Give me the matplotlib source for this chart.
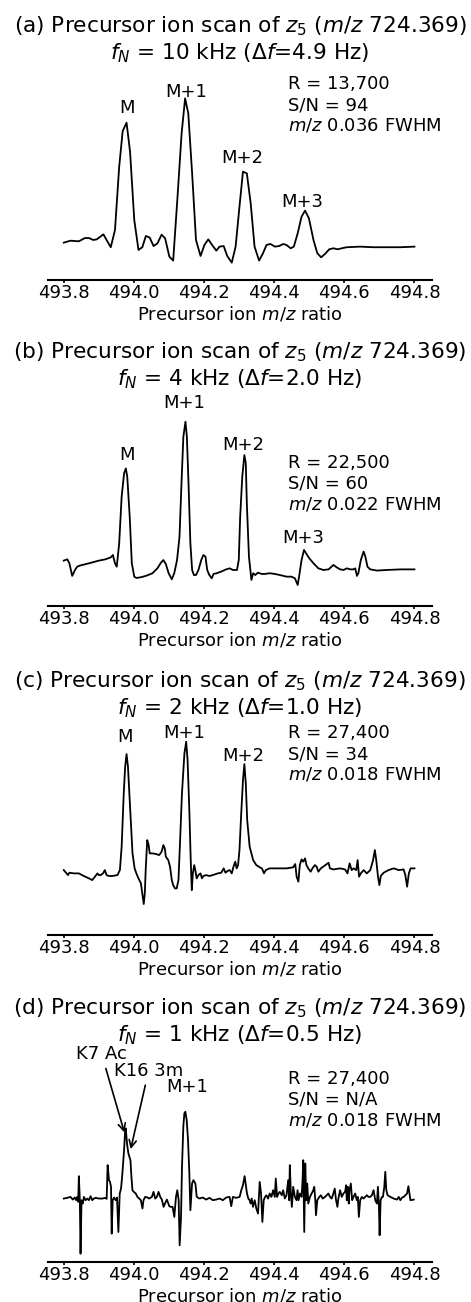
import numpy as np
import matplotlib
matplotlib.use('Agg')
import matplotlib.pyplot as plt

# ---------------- data: precursor m/z vs relative intensity (%) ----------------
# (a) fN = 10 kHz
mz_a = [493.800, 493.819, 493.843, 493.860, 493.872, 493.884, 493.894, 493.913, 493.921, 493.934,
        493.946, 493.958, 493.968, 493.979, 493.989, 494.001, 494.013, 494.024, 494.034, 494.045,
        494.056, 494.067, 494.079, 494.089, 494.101, 494.112, 494.125, 494.136, 494.146, 494.155,
        494.166, 494.177, 494.190, 494.201, 494.212, 494.223, 494.235, 494.244, 494.256, 494.266,
        494.279, 494.290, 494.301, 494.311, 494.322, 494.333, 494.344, 494.357, 494.368, 494.378,
        494.389, 494.402, 494.414, 494.426, 494.435, 494.447, 494.456, 494.467, 494.478, 494.488,
        494.499, 494.512, 494.523, 494.534, 494.545, 494.557, 494.569, 494.581, 494.593, 494.607,
        494.645, 494.683, 494.722, 494.760, 494.800]
int_a = [2.7, 4.0, 3.6, 5.8, 5.8, 4.5, 4.9, 8.3, 4.9, -0.4,
         11.2, 53.9, 78.0, 83.6, 64.0, 18.0, -2.2, -0.4, 7.2, 6.1,
         0.4, 2.2, 8.1, 5.6, -6.7, -9.4, 36.0, 76.4, 100.0, 89.9,
         49.4, 4.5, -6.3, 1.1, 4.9, 1.1, -2.7, 0.0, 0.4, -6.3,
         -10.8, 0.0, 27.0, 50.6, 49.4, 29.2, 0.0, -9.4, -4.5, 1.1,
         1.8, 0.0, 0.4, 1.8, 1.1, -1.1, 0.0, 9.0, 20.2, 24.3,
         19.1, 4.5, -4.5, -7.2, -4.9, -1.8, -1.1, -1.8, -1.1, -0.4,
         0.0, -0.4, -0.4, -0.4, 0.0]

# (b) fN = 4 kHz
mz_b = [493.800, 493.810, 493.816, 493.824, 493.832, 493.838, 493.848, 493.872, 493.900, 493.919,
        493.934, 493.940, 493.946, 493.951, 493.958, 493.965, 493.972, 493.977, 493.981, 493.988,
        493.994, 494.001, 494.007, 494.020, 494.034, 494.053, 494.067, 494.077, 494.084, 494.091,
        494.099, 494.108, 494.115, 494.123, 494.130, 494.136, 494.141, 494.147, 494.151, 494.156,
        494.161, 494.166, 494.171, 494.177, 494.184, 494.192, 494.198, 494.204, 494.209, 494.215,
        494.222, 494.227, 494.236, 494.249, 494.263, 494.273, 494.282, 494.294, 494.299, 494.303,
        494.309, 494.315, 494.319, 494.322, 494.328, 494.335, 494.340, 494.346, 494.354, 494.364,
        494.373, 494.387, 494.402, 494.416, 494.435, 494.449, 494.459, 494.467, 494.471, 494.478,
        494.485, 494.491, 494.500, 494.512, 494.526, 494.540, 494.555, 494.569, 494.578, 494.588,
        494.598, 494.607, 494.617, 494.626, 494.631, 494.636, 494.640, 494.647, 494.655, 494.660,
        494.666, 494.674, 494.693, 494.722, 494.760, 494.800]
int_b = [6.3, 7.2, 4.5, -4.0, 0.0, 2.2, 3.1, 4.5, 6.3, 7.2,
         8.5, 10.1, 4.5, 2.2, 18.0, 49.4, 65.2, 68.5, 62.9, 36.0,
         4.5, -4.5, -5.4, -4.9, -4.0, -2.2, 1.1, 4.9, 6.7, 4.0,
         -2.2, -6.3, -2.2, 6.7, 22.5, 60.7, 89.9, 100.0, 89.9, 56.2,
         18.0, 0.0, -3.4, -3.4, 0.0, 6.7, 10.1, 9.0, 0.0, -3.4,
         -5.6, -2.7, -2.2, -1.1, 0.4, 1.1, 0.0, 0.0, 6.7, 36.0,
         62.9, 77.5, 71.9, 44.9, 9.0, -6.7, -2.2, -3.4, -1.8, -2.7,
         -2.7, -2.2, -2.7, -3.4, -4.5, -4.5, -5.6, -10.1, -4.5, 6.7,
         13.5, 11.2, 7.9, 4.5, 1.1, 0.0, 0.4, 3.4, 1.8, 0.4,
         0.0, 1.1, 0.4, 0.4, 1.1, -4.0, -2.2, 6.7, 12.4, 9.0,
         2.2, 0.4, -0.4, 0.0, 0.4, 0.4]

# (c) fN = 2 kHz
mz_c = [493.800, 493.808, 493.812, 493.816, 493.829, 493.843, 493.857, 493.872, 493.881, 493.889,
        493.896, 493.900, 493.905, 493.912, 493.917, 493.922, 493.929, 493.938, 493.953, 493.960,
        493.965, 493.971, 493.975, 493.979, 493.983, 493.989, 493.996, 494.002, 494.007, 494.013,
        494.020, 494.024, 494.028, 494.031, 494.034, 494.038, 494.042, 494.045, 494.053, 494.063,
        494.072, 494.079, 494.084, 494.088, 494.091, 494.098, 494.103, 494.108, 494.112, 494.117,
        494.122, 494.127, 494.131, 494.137, 494.144, 494.149, 494.153, 494.158, 494.162, 494.165,
        494.168, 494.172, 494.175, 494.179, 494.184, 494.190, 494.194, 494.198, 494.206, 494.215,
        494.225, 494.239, 494.249, 494.256, 494.261, 494.268, 494.273, 494.279, 494.284, 494.289,
        494.293, 494.297, 494.301, 494.306, 494.311, 494.315, 494.319, 494.323, 494.330, 494.340,
        494.349, 494.359, 494.365, 494.371, 494.376, 494.387, 494.406, 494.435, 494.454, 494.460,
        494.464, 494.469, 494.473, 494.478, 494.483, 494.488, 494.492, 494.497, 494.504, 494.509,
        494.516, 494.521, 494.526, 494.533, 494.540, 494.550, 494.555, 494.559, 494.569, 494.588,
        494.602, 494.609, 494.615, 494.621, 494.626, 494.634, 494.638, 494.642, 494.647, 494.655,
        494.664, 494.674, 494.682, 494.687, 494.691, 494.696, 494.700, 494.704, 494.712, 494.726,
        494.741, 494.755, 494.769, 494.774, 494.779, 494.784, 494.789, 494.800]
int_c = [2.5, 0.0, -1.3, 0.5, 0.0, 0.0, -2.0, -3.8, -5.1, -2.5,
         0.0, -1.3, -1.3, 0.0, 2.5, -1.3, -2.0, -2.0, -1.3, 2.5,
         20.3, 60.8, 81.0, 90.6, 81.0, 50.6, 15.2, 3.8, 0.0, -3.8,
         -7.6, -15.2, -23.3, -15.2, 5.1, 25.3, 21.5, 15.2, 15.2, 14.7,
         13.9, 16.5, 21.5, 19.0, 12.7, 10.1, 5.1, -5.1, -8.9, -11.4,
         -11.4, -5.1, 20.3, 60.8, 91.1, 100.0, 86.1, 48.1, 10.1, -12.7,
         0.0, 6.3, 2.5, -3.8, -1.3, 0.0, -3.8, -2.0, -1.3, -2.0,
         -1.3, 0.0, 0.5, 3.8, 0.5, 2.0, 2.5, 0.0, 5.1, 8.9,
         3.8, 6.3, 17.7, 45.6, 70.9, 83.0, 68.4, 40.5, 20.3, 10.1,
         6.3, 4.6, 3.8, 0.0, 2.5, 3.8, 3.8, 3.8, 4.6, 7.1,
         -2.5, -6.3, 6.3, 10.6, 8.9, 11.4, 6.3, 3.8, 1.3, 3.8,
         6.3, 5.1, 1.3, 3.8, 5.1, 7.1, 8.1, 3.8, 3.0, 3.8,
         3.0, 0.0, 7.6, 2.5, 3.8, 2.5, 10.1, -2.5, 0.0, 2.5,
         0.0, 2.5, 10.1, 17.7, 10.1, -2.5, -8.9, -2.0, 0.5, 2.5,
         3.8, 2.5, 3.0, -1.3, -10.1, 0.0, 3.8, 3.8]

# (d) fN = 1 kHz
mz_d = [493.8000, 493.8096, 493.8191, 493.8258, 493.8315, 493.8353, 493.8382, 493.8411, 493.8430, 493.8458,
        493.8478, 493.8506, 493.8544, 493.8573, 493.8621, 493.8669, 493.8716, 493.8764, 493.8812, 493.8860,
        493.8907, 493.9003, 493.9098, 493.9194, 493.9222, 493.9251, 493.9289, 493.9318, 493.9347, 493.9366,
        493.9394, 493.9433, 493.9480, 493.9518, 493.9557, 493.9595, 493.9633, 493.9671, 493.9719, 493.9748,
        493.9767, 493.9795, 493.9815, 493.9843, 493.9872, 493.9901, 493.9929, 493.9958, 493.9996, 494.0053,
        494.0101, 494.0149, 494.0197, 494.0244, 494.0273, 494.0321, 494.0388, 494.0435, 494.0512, 494.0559,
        494.0607, 494.0655, 494.0703, 494.0750, 494.0798, 494.0846, 494.0894, 494.0941, 494.1008, 494.1056,
        494.1104, 494.1152, 494.1199, 494.1237, 494.1276, 494.1304, 494.1343, 494.1371, 494.1409, 494.1438,
        494.1467, 494.1505, 494.1543, 494.1581, 494.1610, 494.1658, 494.1696, 494.1753, 494.1791, 494.1868,
        494.1963, 494.2059, 494.2154, 494.2250, 494.2345, 494.2441, 494.2536, 494.2632, 494.2727, 494.2775,
        494.2823, 494.2918, 494.3014, 494.3062, 494.3109, 494.3157, 494.3186, 494.3224, 494.3262, 494.3300,
        494.3329, 494.3358, 494.3396, 494.3444, 494.3491, 494.3539, 494.3587, 494.3625, 494.3663, 494.3701,
        494.3740, 494.3778, 494.3826, 494.3873, 494.3921, 494.3969, 494.4017, 494.4045, 494.4083, 494.4122,
        494.4160, 494.4217, 494.4255, 494.4303, 494.4351, 494.4399, 494.4427, 494.4446, 494.4475, 494.4504,
        494.4542, 494.4590, 494.4637, 494.4666, 494.4695, 494.4733, 494.4781, 494.4809, 494.4828, 494.4857,
        494.4886, 494.4914, 494.4943, 494.4972, 494.5019, 494.5067, 494.5115, 494.5143, 494.5172, 494.5191,
        494.5229, 494.5287, 494.5334, 494.5382, 494.5449, 494.5497, 494.5545, 494.5592, 494.5640, 494.5688,
        494.5726, 494.5764, 494.5803, 494.5831, 494.5879, 494.5927, 494.5974, 494.6022, 494.6051, 494.6070,
        494.6099, 494.6127, 494.6146, 494.6185, 494.6223, 494.6261, 494.6309, 494.6356, 494.6385, 494.6414,
        494.6452, 494.6500, 494.6547, 494.6595, 494.6643, 494.6691, 494.6738, 494.6786, 494.6834, 494.6882,
        494.6929, 494.6958, 494.6987, 494.7006, 494.7035, 494.7073, 494.7101, 494.7140, 494.7168, 494.7197,
        494.7235, 494.7312, 494.7407, 494.7503, 494.7550, 494.7598, 494.7646, 494.7694, 494.7741, 494.7789,
        494.7827, 494.7856, 494.7885, 494.7980]
int_d = [0.0, 0.8, 1.9, -1.2, 1.2, -1.9, 1.9, -3.8, 25.8, -1.9,
         -63.5, -1.9, -5.8, 1.9, -1.9, 0.0, -1.9, 2.7, -1.9, 0.0,
         0.8, 0.0, 0.0, 0.8, -0.4, 38.5, 21.2, 19.2, 13.5, -40.4,
         -1.9, 1.2, -1.9, 1.2, -38.5, 5.8, 11.5, 28.8, 55.8, 76.9,
         80.8, 67.3, 59.6, 51.9, 48.1, 44.2, 25.0, 9.6, 7.7, 5.8,
         1.9, 0.0, -1.9, -11.5, -1.9, 1.9, 1.2, 0.0, 1.9, 7.7,
         0.0, 1.9, 7.7, 1.9, -1.2, -9.6, -5.0, -1.2, -8.8, -9.6,
         -9.6, -21.2, 1.9, 9.6, -1.9, -53.8, -21.2, 36.5, 82.7, 98.1,
         100.0, 90.4, 67.3, 28.8, -13.5, 17.3, 21.2, 17.3, 1.9, 0.0,
         1.2, -1.2, 0.8, -1.9, -1.2, 0.0, -1.9, 1.2, 1.9, -8.8,
         1.9, 0.8, 1.9, 9.6, 15.4, 25.8, 17.3, 5.8, 0.0, -1.9,
         -5.8, 0.0, -9.6, -1.9, -11.5, -17.3, 19.2, 5.8, -26.9, -1.9,
         1.9, 3.8, 0.0, 5.8, 1.9, 9.6, 1.9, 23.1, 1.9, 5.8,
         7.7, 3.8, 9.6, 0.0, 3.8, 21.2, -1.9, 38.5, 5.8, -9.6,
         13.5, 1.9, -1.9, 9.6, -1.9, 5.8, 1.9, 21.2, 44.2, -38.5,
         40.4, -1.9, 17.3, -5.8, 1.9, 5.8, 9.6, 13.5, -1.9, -19.2,
         -1.9, 1.9, 3.8, 0.0, 1.9, 3.8, 5.8, 1.9, 0.0, 5.8,
         11.5, -1.9, -9.6, 0.0, 9.6, 1.9, 5.8, 7.7, 15.4, -1.9,
         13.5, -5.8, 9.6, 17.3, -1.9, 1.9, 5.8, -1.9, 1.9, -21.2,
         -1.9, 1.9, 0.0, 1.9, 3.8, 1.9, 1.9, 3.8, 9.6, -1.9,
         -5.8, 13.5, -9.6, -42.3, -1.9, 1.9, 1.9, 13.5, 30.8, 9.6,
         3.8, 1.9, 0.0, -1.2, 1.9, -1.9, 1.2, 1.9, 3.8, 5.8,
         14.2, 5.8, -1.9, -1.2]

titles = ['(a) Precursor ion scan of $z_5$ ($m/z$ 724.369)\n$f_N$ = 10 kHz ($\\Delta f$=4.9 Hz)',
          '(b) Precursor ion scan of $z_5$ ($m/z$ 724.369)\n$f_N$ = 4 kHz ($\\Delta f$=2.0 Hz)',
          '(c) Precursor ion scan of $z_5$ ($m/z$ 724.369)\n$f_N$ = 2 kHz ($\\Delta f$=1.0 Hz)',
          '(d) Precursor ion scan of $z_5$ ($m/z$ 724.369)\n$f_N$ = 1 kHz ($\\Delta f$=0.5 Hz)']
stats = ['R = 13,700\nS/N = 94\n$m/z$ 0.036 FWHM',
         'R = 22,500\nS/N = 60\n$m/z$ 0.022 FWHM',
         'R = 27,400\nS/N = 34\n$m/z$ 0.018 FWHM',
         'R = 27,400\nS/N = N/A\n$m/z$ 0.018 FWHM']

# peak labels: (text, m/z, intensity)
labels_a = [('M', 493.981, 93.3), ('M+1', 494.149, 104.5), ('M+2', 494.309, 59.6), ('M+3', 494.481, 30.3)]
labels_b = [('M', 493.980, 77.5), ('M+1', 494.144, 112.4), ('M+2', 494.311, 84.3), ('M+3', 494.483, 21.3)]
labels_c = [('M', 493.975, 103.3), ('M+1', 494.142, 106.3), ('M+2', 494.311, 89.1)]
labels_d = [('M+1', 494.151, 128.1)]
# arrows in (d): (text, text m/z, text int, tip m/z, tip int)
arrows_d = [('K7 Ac', 493.908, 166.5, 493.975, 73.1),
            ('K16 3m', 494.042, 147.3, 493.989, 53.8)]

stats_y = [95.5, 58.0, 90.6, 114.2]
ylims = [(-22.5, 122.5), (-24.3, 120.7), (-46.8, 116.5), (-73.1, 174.6)]
spine_px = [280, 606, 935, 1262]

plt.rcParams['font.size'] = 13

fig = plt.figure(figsize=(4.71, 13.02), dpi=100)

data = [(mz_a, int_a, labels_a), (mz_b, int_b, labels_b),
        (mz_c, int_c, labels_c), (mz_d, int_d, labels_d)]

for i in range(4):
    mz, inten, labs = data[i]
    bottom = 1 - spine_px[i] / 1302.0
    ax = fig.add_axes([48 / 471.0, bottom, 384 / 471.0, 215 / 1302.0])
    ax.plot(mz, inten, color='black', lw=1.3)
    for t, x, y in labs:
        ax.text(x, y, t, ha='center', va='center')
    ax.text(494.44, stats_y[i], stats[i], ha='left', va='center')
    if i == 3:
        for t, tx, ty, px, py in arrows_d:
            ax.annotate(t, xy=(px, py), xytext=(tx, ty), ha='center', va='center',
                        arrowprops=dict(arrowstyle='->', color='black', lw=1.2))
    ax.set_xlim(493.755, 494.85)
    ax.set_ylim(ylims[i])
    ax.set_xticks(np.arange(493.8, 494.81, 0.2))
    ax.set_xticklabels(['%.1f' % v for v in np.arange(493.8, 494.81, 0.2)])
    ax.set_yticks([])
    for s in ['left', 'right', 'top']:
        ax.spines[s].set_visible(False)
    ax.spines['bottom'].set_linewidth(1.5)
    ax.tick_params(axis='x', length=2, width=1.2, pad=1)
    ax.set_xlabel('Precursor ion $m/z$ ratio', labelpad=1.5)
    ax.set_title(titles[i], pad=1.5)

plt.savefig('out.png', dpi=100)
